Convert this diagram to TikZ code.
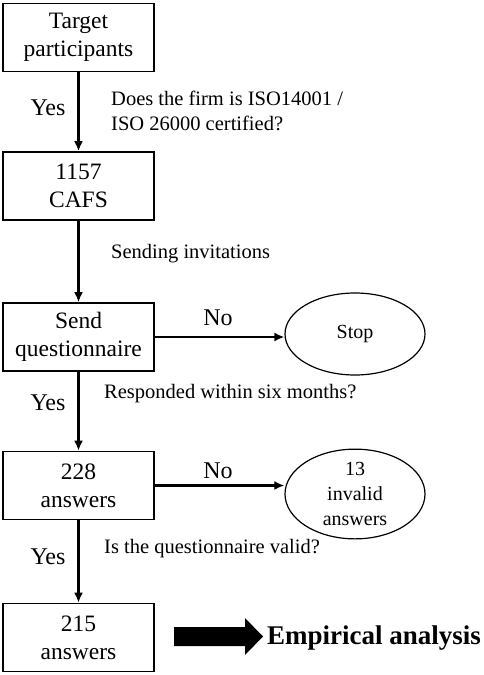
\documentclass[tikz,border=0pt]{standalone}
\usepackage{fontspec}
\setmainfont{Liberation Serif}
\usetikzlibrary{shapes.geometric,arrows.meta}

\begin{document}
\begin{tikzpicture}[x=1pt,y=1pt]
\tikzstyle{every node}+=[inner sep=0pt]
\tikzstyle{box}=[draw,line width=1.6pt,minimum width=151pt,minimum height=68pt,align=center,font=\fontsize{23.5}{28}\selectfont]
\tikzstyle{oval}=[draw,ellipse,line width=1.2pt,minimum width=140pt,minimum height=82pt,align=center,font=\fontsize{20}{25}\selectfont]
\tikzstyle{cond}=[anchor=west,align=left,font=\fontsize{20.5}{25}\selectfont]
\tikzstyle{yn}=[font=\fontsize{24}{28}\selectfont]
\tikzstyle{flow}=[line width=2.2pt,-{Latex[length=10pt,width=9pt]}]
\useasboundingbox (0,0) rectangle (484,-675);
\node [box] (target) at (78.5,-37.5) {Target\\participants};
\node [box] (cafs) at (78.5,-186) {1157\\CAFS};
\node [box] (send) at (78.5,-337) {Send\\questionnaire};
\node [box] (recv) at (78.5,-485.5) {228\\answers};
\node [box] (final) at (78.5,-637.5) {215\\answers};
\node [oval] (stop) at (355,-334) {Stop};
\node [oval] (invalid) at (355,-494) {13\\invalid\\answers};
\draw [flow] (target) -- (cafs);
\draw [flow] (cafs) -- (send);
\draw [flow] (send) -- (recv);
\draw [flow] (recv) -- (final);
\draw [flow] (send.east) -- (stop.west |- send.east);
\draw [flow] (recv.east) -- (invalid.west |- recv.east);
\node [yn] (yes1) at (48,-108) {Yes};
\node [cond] (q1) at (111,-110.5) {Does the firm is ISO14001 /\\ISO 26000 certified?};
\node [cond] (q2) at (111,-254) {Sending invitations};
\node [yn] (no1) at (218,-318) {No};
\node [yn] (yes2) at (48,-403) {Yes};
\node [cond] (q3) at (104,-394) {Responded within six months?};
\node [yn] (no2) at (218,-471) {No};
\node [yn] (yes3) at (48,-557) {Yes};
\node [cond] (q4) at (104,-549) {Is the questionnaire valid?};
\node [anchor=west,font=\bfseries\fontsize{27}{32}\selectfont] (emp) at (267,-638) {Empirical analysis};
% big arrow to the result
\fill (174,-627) -- (245,-627) -- (245,-618) -- (263,-636.5) -- (245,-655) -- (245,-646) -- (174,-646) -- cycle;
\end{tikzpicture}
\end{document}
